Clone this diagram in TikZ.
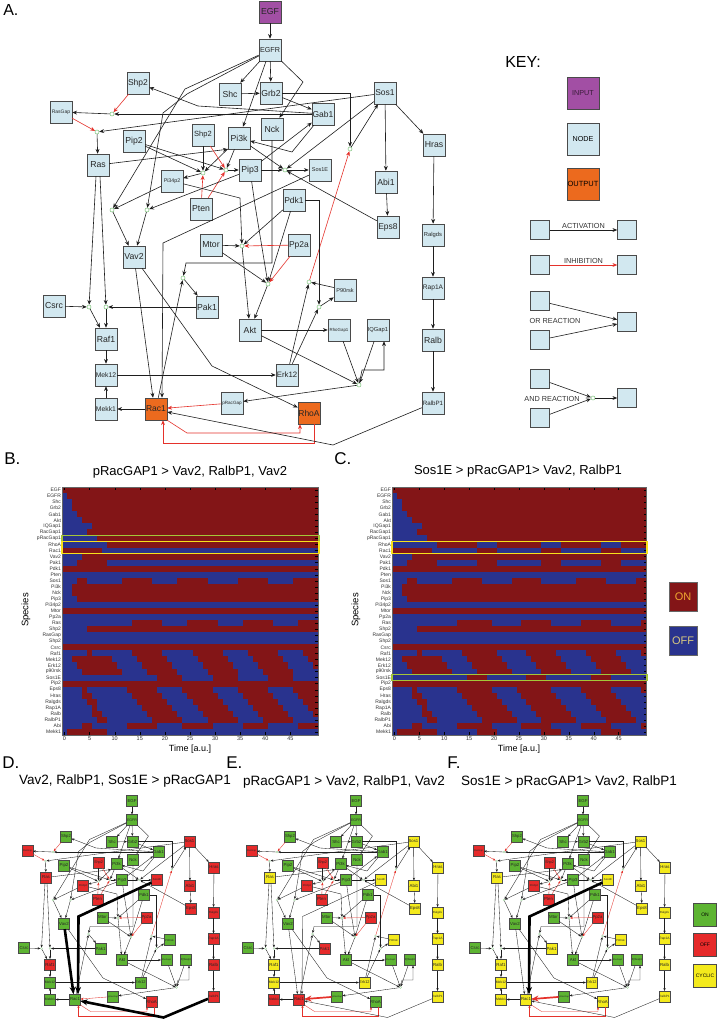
\documentclass[tikz,border=0pt]{standalone}
\usepackage{fontspec}
\setmainfont{Liberation Sans}
\usetikzlibrary{arrows.meta,positioning}
\definecolor{nodeblue}{HTML}{D2E8F0}
\definecolor{inputc}{HTML}{A24FA4}
\definecolor{outputc}{HTML}{EC6A1E}
\definecolor{ndline}{HTML}{4A4A4A}
\definecolor{edge}{HTML}{1E1E1E}
\definecolor{inhred}{HTML}{E5322B}
\definecolor{juncgreen}{HTML}{7CC47A}
\definecolor{hmred}{HTML}{831517}
\definecolor{hmblue}{HTML}{29338E}
\definecolor{hlyellow}{HTML}{F7E11B}
\definecolor{hlgreen}{HTML}{A4C639}
\definecolor{onc}{HTML}{5DB432}
\definecolor{offc}{HTML}{E62A2A}
\definecolor{cycc}{HTML}{F4EA1C}
\definecolor{onyel}{HTML}{F0A830}
\definecolor{offyel}{HTML}{D8C880}

\tikzset{
  gene/.style={draw=ndline, line width=0.5pt, minimum size=22pt, inner sep=0pt, text=black!85},
  junc/.style={circle, draw=juncgreen, fill=white, line width=0.5pt, inner sep=0pt, minimum size=4pt},
  act/.style={draw=edge, -{Stealth[length=0pt 8, width=0pt 6.5]}},
  inh/.style={act, draw=inhred},
  heavy/.style={draw=black, line width=2.6pt, -{Stealth[length=7pt, width=6pt]}},
  heavyinh/.style={heavy, draw=inhred, line width=1.7pt},
  keybox/.style={draw=ndline, fill=nodeblue, line width=0.5pt, minimum size=19pt, inner sep=0pt},
  bigkey/.style={draw=ndline, line width=0.5pt, minimum size=32pt, inner sep=0pt, font=\fontsize{7.2}{7.2}\selectfont},
  keytxt/.style={font=\fontsize{7.3}{7.3}\selectfont, text=black!80, inner sep=1pt},
  rowlbl/.style={anchor=east, inner sep=0.8pt, font=\fontsize{5}{5}\selectfont, text=black!80},
  ticklbl/.style={anchor=north, inner sep=1.5pt, font=\fontsize{5.5}{5.5}\selectfont, text=black!80},
  tick/.style={draw=black, line width=0.3pt},
  paneltag/.style={anchor=west, inner sep=0pt, font=\fontsize{17}{17}\selectfont},
  ttl/.style={inner sep=0pt, font=\fontsize{13}{13}\selectfont},
  statebox/.style={draw=ndline, line width=0.5pt, minimum size=23pt, inner sep=0pt, font=\fontsize{5}{5}\selectfont},
}

\newcommand\allgenes{EGF,EGFR,Shc,Grb2,Gab1,Sos1,Shp2a,RasGap,Ras,Pip2,Shp2b,Pi3k,Nck,Pi34p2,Pten,Pip3,Sos1E,Pdk1,Hras,Abi1,Eps8,Vav2,Mtor,Pp2a,Pak1,Csrc,Raf1,Mek12,Mekk1,Rac1,P90rsk,Akt,RhoGap1,IQGap1,Erk12,pRacGap,RhoA,Ralgds,Rap1A,Ralb,RalbP1}
\newcommand\setstate[2]{\edef\tmplist{#2}%
  \foreach \n in \tmplist {\expandafter\xdef\csname st\n\endcsname{#1}}}

% the signalling network, in pixel coordinates of panel A
\newcommand\drawnet{%
  \foreach \n/\x/\y/\l/\f in {EGF/270/12/EGF/8.7, EGFR/270/50/EGFR/7.2, Shc/230/94/Shc/8.7,
      Grb2/271/93/Grb2/8.7, Gab1/323/114/Gab1/8.5, Sos1/385/93/Sos1/8.5, Shp2a/138/83/Shp2/8.5,
      RasGap/61/112/RasGap/5, Ras/98/165/Ras/8.7, Pip2/134/141/Pip2/8.7, Shp2b/203/135/Shp2/7.5,
      Pi3k/239/138/Pi3k/8.7, Nck/272/129/Nck/8.7, Pi34p2/172/181/Pi34p2/5.3, Pten/201/209/Pten/8.7,
      Pip3/250/170/Pip3/8.7, Sos1E/320/170/Sos1E/5.5, Pdk1/294/200/Pdk1/8.5, Hras/434/145/Hras/8.7,
      Abi1/386/182/Abi1/8.7, Eps8/388/227/Eps8/8.5, Vav2/134/257/Vav2/8.7, Mtor/211/245/Mtor/8.7,
      Pp2a/299/245/Pp2a/8.5, Pak1/207/307/Pak1/8.7, Csrc/54/306/Csrc/8.7, Raf1/106/339/Raf1/8.7,
      Mek12/106/375/Mek12/6.8, Mekk1/106/409/Mekk1/6.8, Rac1/156/409/Rac1/8.5, P90rsk/345/290/P90rsk/5.6,
      Akt/250/330/Akt/8.7, RhoGap1/339/330/RhoGap1/4.4, IQGap1/378/330/IQGap1/5.8, Erk12/287/375/Erk12/7.8,
      pRacGap/232/403/pRacGap/4.6, RhoA/309/413/RhoA/8.5, Ralgds/433/235/Ralgds/5.8,
      Rap1A/433/288/Rap1A/6.6, Ralb/433/340/Ralb/8.7, RalbP1/433/403/RalbP1/6.2}
    {\edef\cc{\csname st\n\endcsname}%
     \node[gene, fill=\cc, font=\fontsize{\f}{\f}\selectfont] (\n) at (\x,\y) {\l};}
  \foreach \n/\x/\y in {j1/112/114, j2/97/132, j3/203/173, j4/226/170, j5/112/210, j6/147/210,
      j7/350/149, j8/285/170, j9/309/282, j10/183/278, j11/89/307, j12/106/307, j13/242/246,
      j14/268/284, j15/359/385, j16/319/307}
    \node[junc] (\n) at (\x,\y) {};
  % receptor level
  \draw[act] (EGF) -- (EGFR);
  \draw[act] (EGFR) -- (Shc);
  \draw[act] (EGFR) -- (Grb2);
  \draw[act] (EGFR) -- (Pi3k);
  \draw[act] (EGFR) -- (303,82) -- (Nck);
  \draw[act] (EGFR) -- (185,89) -- (j5);
  \draw[act] (EGFR) -- (187,94) -- (163,113) -- (j6);
  \draw[act] (Shc) -- (Grb2);
  \draw[act] (Grb2) -- (Gab1);
  \draw[act] (Grb2.east) -| (j7);
  \draw[act] (j7) -- (Sos1);
  \draw[inh] (j9) -- (j7);
  \draw[act] (Sos1) -- (Hras);
  \draw[act] (Sos1) -- (Abi1);
  \draw[act] (Sos1) -- (j8);
  \draw[act] (Sos1) -- (j2);
  \draw[act] (Gab1) -- (j1);
  \draw[act] (Gab1) -- (198,106) -- (Shp2a);
  \draw[inh] (Shp2a) -- (j1);
  \draw[act] (j1) -- (RasGap);
  \draw[inh] (RasGap) -- (j2);
  \draw[act] (j2) -- (Ras);
  \draw[act] (Ras) -- (Pi3k.south west);
  \draw[act] (Gab1) -- (292,152) -- (Pi3k);
  \draw[act] (Pip3) -- (Gab1);
  % lipids
  \draw[act] (Pi3k) -- (j3);
  \draw[act] (Pi3k) -- (j4);
  \draw[act] (Pi3k) -- (j8);
  \draw[act] (Shp2b) -- (j3);
  \draw[inh] (Shp2b) -- (j4);
  \draw[inh] (Pten) -- (j3);
  \draw[inh] (Pten) -- (j4);
  \draw[act] (Pip2) -- (j3);
  \draw[act] (Pip2) -- (j4);
  \draw[act] (j3) -- (Pi34p2);
  \draw[act] (j4) -- (Pip3);
  \draw[act] (Pip3) -- (j8);
  \draw[act] (j8) -- (Sos1E);
  \draw[act] (Eps8) -- (j8);
  \draw[act] (Abi1) -- (Eps8);
  \draw[act] (Pi34p2) -- (j5);
  \draw[act] (Pip3) -- (j6);
  \draw[act] (j5) -- (Vav2);
  \draw[act] (j6) -- (Vav2);
  % Rac1 / RhoA
  \draw[act] (Sos1E) -- (163,243) -- ([xshift=6pt]Rac1.north);
  \draw[act] (Vav2) -- ([xshift=-3pt]Rac1.north);
  \draw[act] (Vav2) -- (212,366) -- (RhoA);
  \draw[act] (Rac1) -- (j10);
  \draw[act] (Nck) -- (272,263) -- (186,263) -- (j10);
  \draw[act] (j10) -- (Pak1);
  \draw[act] (Pak1) -- (j12);
  \draw[act] (Csrc) -- (j11);
  \draw[act] ([xshift=-2pt]Ras.south) -- (j11);
  \draw[act] ([xshift=2pt]Ras.south) -- (j12);
  \draw[act] (j11) -- (Raf1);
  \draw[act] (j12) -- (Raf1);
  \draw[act] (Raf1) -- (Mek12);
  \draw[act] (Mekk1) -- (Mek12);
  \draw[act] (Rac1) -- (Mekk1);
  \draw[act] (Mek12) -- (Erk12);
  \draw[act] (Erk12) -- (j9);
  \draw[act] (Erk12) -- (j16);
  \draw[act] (P90rsk) -- (j9);
  \draw[act] (Pdk1.east) -| (j16);
  \draw[act] (j16) -- (P90rsk);
  % Akt
  \draw[act] (Pdk1) -- (j13);
  \draw[act] (Pdk1) -- (j14);
  \draw[act] (Mtor) -- (j13);
  \draw[act] (Mtor) -- (j14);
  \draw[inh] (Pp2a) -- (j13);
  \draw[inh] (Pp2a) -- (j14);
  \draw[act] (Pi34p2) -- (240,198) -- (j13);
  \draw[act] (Pip3) -- (255,205) -- (j14);
  \draw[act] (j13) -- (Akt);
  \draw[act] (j14) -- (Akt);
  \draw[act] (Akt) -- (RhoGap1);
  \draw[act] (Akt) -- (j15);
  \draw[act] (RhoGap1) -- (j15);
  \draw[act] (IQGap1) -- (j15);
  \draw[act] (j15) -- (362,370) -| ([xshift=6pt]IQGap1.south);
  \draw[act] (j15) -- (pRacGap);
  \draw[inh] (pRacGap) -- (Rac1);
  \draw[inh] (Rac1.south east) -- (187,433) -| ([xshift=-9pt]RhoA.south);
  \draw[inh] ([xshift=5pt]RhoA.south) -- ++(0,19) -| ([xshift=7pt]Rac1.south);
  % Ral branch
  \draw[act] (Hras) -- (Ralgds);
  \draw[act] (Ralgds) -- (Rap1A);
  \draw[act] (Rap1A) -- (Ralb);
  \draw[act] (Ralb) -- (RalbP1);
  \draw[act] (RalbP1) -- (333,445) -- ([yshift=-3pt]Rac1.east);
}

% heatmap: x, y, column width, highlights, red runs per row
\newcommand\hmap[5]{%
  \begin{scope}[shift={(#1,#2)}, x=#3, y=-6.05pt]
    \fill[hmblue] (0,0) rectangle (51,41);
    \foreach \row [count=\ri from 0] in {#5}
      \foreach \ta/\tb in \row
        \fill[hmred] (\ta,\ri) rectangle (\tb,\ri+1);
    \foreach \i in {0,...,40}
      \draw[tick] (51,\i+0.5) -- ++(-0.5,0);
    \foreach \tm in {0,5,...,45} {
      \draw[tick] (\tm+0.5,41) -- ++(0,-0.5);
      \draw[tick] (\tm+0.5,0) -- ++(0,0.5);
      \node[ticklbl] (tk\tm) at (\tm+0.5,41) {\tm};
    }
    \foreach \l [count=\i from 0] in {EGF,EGFR,Shc,Grb2,Gab1,Akt,IQGap1,RacGap1,pRacGap1,RhoA,Rac1,Vav2,Pak1,Pdk1,Pten,Sos1,Pi3k,Nck,Pip3,Pi34p2,Mtor,Pp2a,Ras,Shp2,RasGap,Shp2,Csrc,Raf1,Mek12,Erk12,p90rsk,Sos1E,Pip2,Eps8,Hras,Ralgds,Rap1A,Ralb,RalbP1,Abi,Mekk1}
      \node[rowlbl] (rl\i) at (0,\i+0.5) {\l};
    \draw[black!60, line width=0.4pt] (0,0) rectangle (51,41);
    #4
  \end{scope}}

\begin{document}
\begin{tikzpicture}[x=1pt, y=-1pt, line width=0.6pt]
  \useasboundingbox (0,0) rectangle (718,1019);
  \fill[white] (0,0) rectangle (718,1019);

  % panel A
  \node[anchor=west, inner sep=0pt, font=\fontsize{16}{16}\selectfont] (tagA) at (3,10) {A.};
  \setstate{nodeblue}{\allgenes}
  \setstate{inputc}{EGF}
  \setstate{outputc}{Rac1,RhoA}
  \drawnet

  % key
  \node[anchor=west, inner sep=0pt, font=\fontsize{16}{16}\selectfont] (keyttl) at (505,62) {KEY:};
  \node[bigkey, fill=inputc, text=black!65!inputc] (kin) at (583,93) {INPUT};
  \node[bigkey, fill=nodeblue] (knode) at (583,139) {NODE};
  \node[bigkey, fill=outputc, font=\fontsize{7.5}{7.5}\selectfont] (kout) at (583,184) {OUTPUT};
  \node[keybox] (kact1) at (540,230) {};
  \node[keybox] (kact2) at (627,230) {};
  \draw[act] (kact1) -- (kact2) node[midway, above, keytxt] (kacttxt) {ACTIVATION};
  \node[keybox] (kinh1) at (540,265) {};
  \node[keybox] (kinh2) at (627,265) {};
  \draw[inh] (kinh1) -- (kinh2) node[midway, above, keytxt] (kinhtxt) {INHIBITION};
  \node[keybox] (kor1) at (540,301) {};
  \node[keybox] (kor2) at (540,340) {};
  \node[keybox] (kor3) at (627,322) {};
  \draw[act] (kor1) -- (kor3);
  \draw[act] (kor2) -- (kor3);
  \node[keytxt] (kortxt) at (555,321) {OR REACTION};
  \node[keybox] (kand1) at (540,379) {};
  \node[keybox] (kand2) at (540,418) {};
  \node[junc] (kandj) at (593,398) {};
  \node[keybox] (kand3) at (627,398) {};
  \draw[act] (kand1) -- (kandj);
  \draw[act] (kand2) -- (kandj);
  \draw[act] (kandj) -- (kand3);
  \node[keytxt] (kandtxt) at (552,399) {AND REACTION};

  % panels B and C
  \node[paneltag] (tagB) at (4,459) {B.};
  \node[paneltag] (tagC) at (334,459) {C.};
  \node[ttl] (ttlB) at (190,472) {pRacGAP1 > Vav2, RalbP1, Vav2};
  \node[ttl] (ttlC) at (518,471) {Sos1E > pRacGAP1> Vav2, RalbP1};
  \node[rotate=90, inner sep=0pt, font=\fontsize{9.5}{9.5}\selectfont] (spB) at (26,610) {Species};
  \node[rotate=90, inner sep=0pt, font=\fontsize{9.5}{9.5}\selectfont] (spC) at (356,610) {Species};
  \node[inner sep=0pt, font=\fontsize{9}{9}\selectfont] (tmB) at (190,749) {Time [a.u.]};
  \node[inner sep=0pt, font=\fontsize{9}{9}\selectfont] (tmC) at (519,749) {Time [a.u.]};

  \hmap{62}{487}{5.0196pt}{%
    \draw[hlgreen, line width=1.3pt] (0,8) rectangle (51.2,9);
    \draw[hlyellow, line width=1.3pt] (0,9) rectangle (51.2,11);}
  {{0/51},{1/51},{2/51},{2/51},{3/51},{4/51},{6/51},{5/51},{7/51},{9/51},{0/8},{4/51},{3/9},{0/51},{0/0},
   {3/5,12/18,23/29,35/41,46/51},{2/51},{2/51},{3/51},{0/0},{0/51},{0/0},{14/20,25/31,36/42,47/51},
   {5/51},{0/0},{0/0},{0/51},{5/6,14/20,26/32,37/43,48/51},{2/10,15/21,27/33,38/44,49/51},
   {3/11,16/22,28/34,39/45,50/51},{4/12,17/23,29/35,40/46},{19/24,30/35,41/46},{0/51},
   {4/5,13/19,24/30,35/41,46/51},{4/6,14/20,25/31,36/42,47/51},{5/7,15/21,26/32,37/43,48/51},
   {6/7,16/22,27/33,38/44,49/51},{6/8,17/23,28/34,39/45,50/51},{7/9,18/24,29/35,40/46},
   {4/6,13/19,24/30,36/41,47/51},{1/9}}

  \hmap{392}{487}{4.98pt}{%
    \draw[hlyellow, line width=1.3pt] (0,9) rectangle (51.2,11);
    \draw[hlgreen, line width=1.3pt] (0,31) rectangle (51.2,32);}
  {{0/51},{1/51},{2/51},{2/51},{3/51},{4/51},{6/51},{5/51},{7/51},{9/17,21/30,34/42,46/51},
   {0/8,17/21,30/34,42/46},{4/51},{3/9,17/21,30/34,42/46},{0/51},{0/0},
   {3/5,12/18,24/30,37/43,49/51},{2/51},{2/51},{3/51},{0/0},{0/51},{0/0},{13/20,26/32,38/44,50/51},
   {5/51},{0/0},{0/0},{0/51},{5/6,14/21,27/33,39/45,50/51},{2/10,15/22,28/34,40/46},
   {3/11,16/23,29/35,41/47},{4/12,17/24,30/36,42/48},{15/19,27/31,40/44},{0/51},
   {4/5,13/20,25/32,38/44,50/51},{4/6,14/21,26/33,39/45},{5/7,15/22,27/34,40/46},
   {6/7,16/23,28/35,41/47},{6/8,17/24,29/36,42/48},{7/9,18/25,30/37,43/49},
   {4/6,13/20,26/32,38/44,50/51},{1/9,17/21,30/34,42/46}}

  \node[draw=black!60, fill=hmred, minimum width=28pt, minimum height=29pt, inner sep=0pt,
        font=\fontsize{11}{11}\selectfont, text=onyel] (hmon) at (683,597) {ON};
  \node[draw=black!60, fill=hmblue, minimum width=28pt, minimum height=29pt, inner sep=0pt,
        font=\fontsize{11}{11}\selectfont, text=offyel] (hmoff) at (683,641) {OFF};

  % panels D, E, F
  \node[paneltag] (tagD) at (2,763) {D.};
  \node[paneltag] (tagE) at (226,763) {E.};
  \node[paneltag] (tagF) at (447,763) {F.};
  \node[ttl, font=\fontsize{13.5}{13.5}\selectfont] (ttlD) at (125,781) {Vav2, RalbP1, Sos1E > pRacGAP1};
  \node[ttl, font=\fontsize{13.5}{13.5}\selectfont] (ttlE) at (344,782) {pRacGAP1 > Vav2, RalbP1, Vav2};
  \node[ttl, font=\fontsize{13.5}{13.5}\selectfont] (ttlF) at (569,782) {Sos1E > pRacGAP1> Vav2, RalbP1};

  \setstate{onc}{\allgenes}
  \setstate{offc}{Sos1,RasGap,Shp2b,Hras,Ras,Pi34p2,Sos1E,Pten,Abi1,Eps8,Pp2a,Ralgds,Rap1A,Raf1,Ralb,RhoA,RalbP1}
  \begin{scope}[shift={(-3,795)}, scale=0.5, transform shape, name prefix=D-, line width=0.35pt]
    \tikzset{gene/.append style={line width=0.3pt}, junc/.append style={line width=0.3pt}}
    \drawnet
    \draw[heavy] (Vav2) -- ([xshift=-3pt]Rac1.north);
    \draw[heavy] (Sos1E) -- (163,243) -- ([xshift=6pt]Rac1.north);
    \draw[heavy] (RalbP1) -- (333,445) -- ([yshift=-3pt]Rac1.east);
  \end{scope}

  \setstate{onc}{\allgenes}
  \setstate{offc}{RasGap,Shp2b,Pi34p2,Pten,Pp2a,Pak1,Mekk1,Rac1}
  \setstate{cycc}{Sos1,Hras,Ras,Sos1E,Abi1,Eps8,Ralgds,P90rsk,Rap1A,Raf1,Ralb,Mek12,Erk12,RalbP1}
  \begin{scope}[shift={(221,795)}, scale=0.5, transform shape, name prefix=E-, line width=0.35pt]
    \tikzset{gene/.append style={line width=0.3pt}, junc/.append style={line width=0.3pt}}
    \drawnet
    \draw[heavyinh] (pRacGap) -- (Rac1);
  \end{scope}

  \setstate{onc}{\allgenes}
  \setstate{offc}{RasGap,Shp2b,Pi34p2,Pten,Pp2a}
  \setstate{cycc}{Sos1,Hras,Ras,Sos1E,Abi1,Eps8,Ralgds,P90rsk,Rap1A,Pak1,Raf1,Ralb,Mek12,Erk12,Mekk1,Rac1,RhoA,RalbP1}
  \begin{scope}[shift={(448,795)}, scale=0.5, transform shape, name prefix=F-, line width=0.35pt]
    \tikzset{gene/.append style={line width=0.3pt}, junc/.append style={line width=0.3pt}}
    \drawnet
    \draw[heavy] (Sos1E) -- (163,243) -- ([xshift=6pt]Rac1.north);
    \draw[heavyinh] (pRacGap) -- (Rac1);
  \end{scope}

  \node[statebox, fill=onc] (lgon) at (705,915) {ON};
  \node[statebox, fill=offc] (lgoff) at (705,945) {OFF};
  \node[statebox, fill=cycc] (lgcyc) at (705,976) {CYCLIC};
\end{tikzpicture}
\end{document}
